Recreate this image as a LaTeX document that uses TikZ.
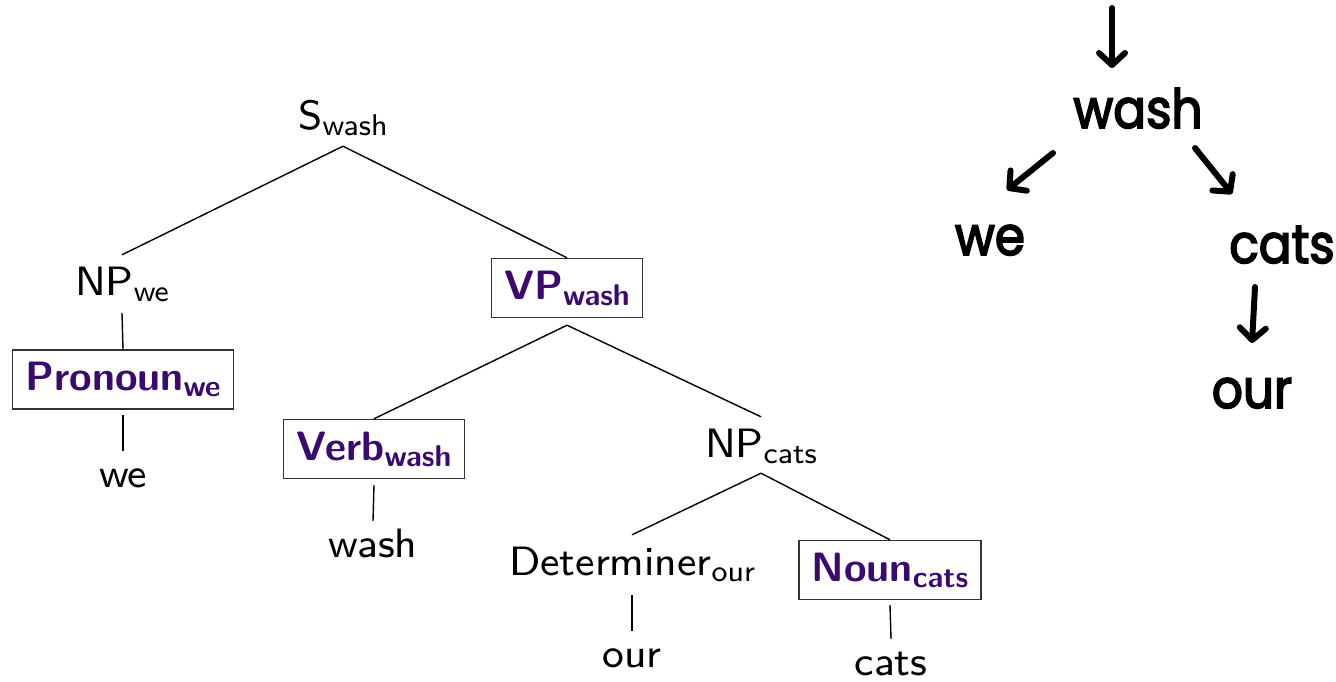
\documentclass[tikz,border=0pt]{standalone}
\usepackage{fontspec}
\newfontfamily\hand{Poppins}[FakeBold=3, FakeStretch=0.9]
\newfontfamily\labelfont{lmsans8-regular.otf}[BoldFont=lmsans10-bold.otf]
\usetikzlibrary{arrows.meta}

\definecolor{headpurple}{RGB}{58,10,110}
\definecolor{boxgrey}{RGB}{51,51,51}

% lowered, smaller head-word label
\newcommand\lowtag[1]{\raisebox{-6pt}{\fontsize{30}{30}\selectfont #1}}

\begin{document}
\begin{tikzpicture}[x=1pt,y=-1pt,
  cat/.style={font=\labelfont\fontsize{41}{48}\selectfont, inner sep=0pt,
    text height=40pt, text depth=16pt, anchor=base},
  leaf/.style={font=\labelfont\fontsize{41}{48}\selectfont, inner sep=0pt,
    text height=36pt, text depth=0pt, anchor=base},
  headbox/.style={draw=boxgrey, line width=1.4pt, text=headpurple,
    font=\labelfont\bfseries\fontsize{41}{48}\selectfont,
    inner xsep=13pt, inner ysep=0pt, minimum height=59pt, anchor=center},
  branch/.style={line width=1.4pt, black},
  hand/.style={font=\hand\fontsize{54}{60}\selectfont, inner sep=0pt, anchor=base},
  harrow/.style={line width=6pt, line cap=round, line join=round,
    -{Straight Barb[length=12pt, width=26pt, round]}}]

\useasboundingbox (0,0) rectangle (1336,682);

% constituency tree
\node[cat] (S) at (343,130) {S\lowtag{wash}};
\node[cat] (NPwe) at (122,295) {NP\lowtag{we}};
\node[headbox] (Pron) at (123,379.5) {Pronoun\lowtag{we}};
\node[leaf] (we) at (123,487) {we};
\node[headbox] (VP) at (567,288) {VP\lowtag{wash}};
\node[headbox] (Verb) at (374,449) {Verb\lowtag{wash}};
\node[leaf] (washleaf) at (373,557) {wash};
\node[cat] (NPcats) at (761,457) {NP\lowtag{cats}};
\node[cat] (Det) at (632,575) {Determiner\lowtag{our}};
\node[leaf] (our) at (632,667) {our};
\node[headbox] (Noun) at (890,570) {Noun\lowtag{cats}};
\node[leaf] (cats) at (891,675) {cats};

\draw[branch] (S.south) -- (NPwe.north);
\draw[branch] (S.south) -- (VP.north);
\draw[branch] ([yshift=-2pt]NPwe.south) -- (Pron.north);
\draw[branch] ([yshift=-5pt]Pron.south) -- (we.north);
\draw[branch] ([yshift=-7pt]VP.south) -- (Verb.north);
\draw[branch] ([yshift=-7pt]VP.south) -- (NPcats.north);
\draw[branch] ([yshift=-6pt]Verb.south) -- (washleaf.north);
\draw[branch] (NPcats.south) -- (Det.north);
\draw[branch] (NPcats.south) -- (Noun.north);
\draw[branch] ([yshift=-4pt]Det.south) -- (our.north);
\draw[branch] ([yshift=-5pt]Noun.south) -- (cats.north);

% dependency sketch
\node[hand] (hwash) at (1138,128) {wash};
\node[hand] (hwe) at (990,255) {we};
\node[hand] (hcats) at (1282,263) {cats};
\node[hand] (hour) at (1252,408) {our};
\coordinate (root) at (1112,8);

\draw[harrow] (root) -- ([xshift=-26pt,yshift=60pt]hwash.base);
\draw[harrow] ([xshift=-85pt,yshift=-25pt]hwash.base) -- ([xshift=17pt,yshift=65pt]hwe.base);
\draw[harrow] ([xshift=57pt,yshift=-20pt]hwash.base) -- ([xshift=-50pt,yshift=69pt]hcats.base);
\draw[harrow] ([xshift=-27pt,yshift=-24pt]hcats.base) -- ([yshift=65pt]hour.base);
\end{tikzpicture}
\end{document}
